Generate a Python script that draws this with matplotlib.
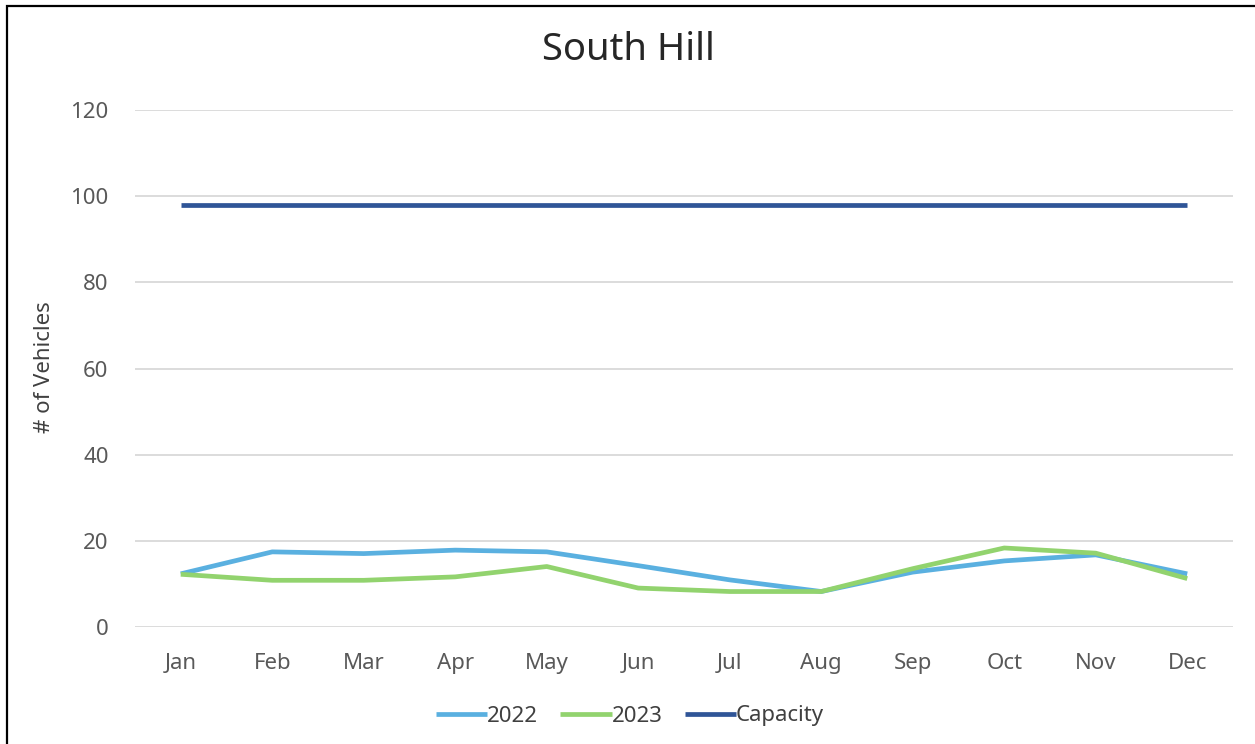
import matplotlib
matplotlib.use("Agg")
import matplotlib.pyplot as plt
from matplotlib.patches import Rectangle

months = ["Jan", "Feb", "Mar", "Apr", "May", "Jun", "Jul", "Aug", "Sep", "Oct", "Nov", "Dec"]
v2022 = [12.4, 17.5, 17.1, 17.9, 17.5, 14.3, 11.0, 8.3, 12.8, 15.4, 16.8, 12.4]
v2023 = [12.3, 10.9, 10.9, 11.7, 14.1, 9.1, 8.3, 8.3, 13.6, 18.4, 17.2, 11.3]
capacity = [98] * 12
yticks = [0, 20, 40, 60, 80, 100, 120]

plt.rcParams['font.family'] = ['Noto Sans', 'DejaVu Sans']

W, H = 1255, 744
fig = plt.figure(figsize=(W / 100, H / 100), dpi=100)
ax = fig.add_axes([135 / W, 1 - 627.3 / H, (1233 - 135) / W, (627.3 - 110) / H])

x = list(range(len(months)))
c2022 = "#5AB0E0"
c2023 = "#92D36E"
ccap = "#2F5597"
ax.plot(x, v2022, color=c2022, lw=3.4, label="2022", solid_capstyle="butt", zorder=3)
ax.plot(x, v2023, color=c2023, lw=3.4, label="2023", solid_capstyle="butt", zorder=4)
ax.plot(x, capacity, color=ccap, lw=3.4, label="Capacity", solid_capstyle="butt", zorder=3)

ax.set_xlim(-0.5, len(months) - 0.5)
ax.set_ylim(0, 120)
ax.set_yticks(yticks)
ax.set_xticks(x)
ax.set_xticklabels(months)
ax.grid(axis="y", color="#D9D9D9", lw=1.3)
ax.set_axisbelow(True)
for s in ax.spines.values():
    s.set_visible(False)
ax.tick_params(axis="both", length=0, labelsize=16, labelcolor="#595959")
ax.tick_params(axis="y", pad=19)
ax.tick_params(axis="x", pad=18.5)

ax.set_ylabel("# of Vehicles", fontsize=16, color="#404040")
ax.yaxis.set_label_coords(-0.0729, 0.503)

fig.text(628 / W, 1 - 50 / H, "South Hill", ha="center", va="center", fontsize=27.5, color="#262626")

leg = fig.legend(loc="center", bbox_to_anchor=(630 / W, 1 - 716 / H), ncol=3, frameon=False,
                 fontsize=16, handlelength=2.3, handletextpad=0.0, columnspacing=1.0,
                 labelcolor="#404040")

fig.patches.append(Rectangle((7 / W, -0.1), 1.2, 1 - 6 / H + 0.1, transform=fig.transFigure,
                             fill=False, edgecolor="black", lw=1.6, zorder=10))

fig.savefig("out.png", dpi=100)
